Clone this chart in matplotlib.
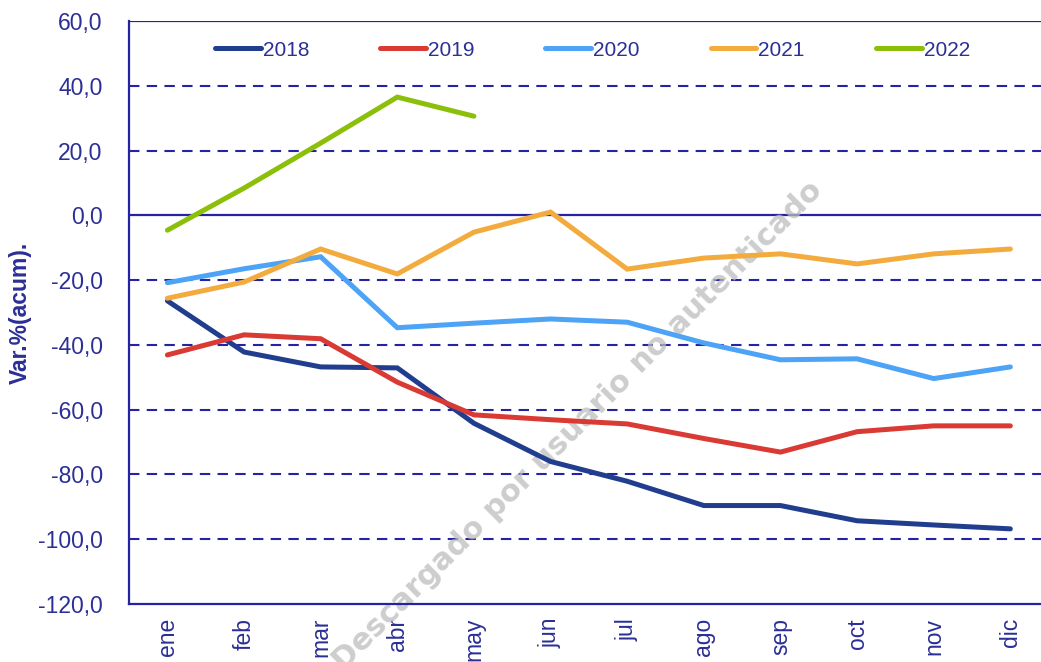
import matplotlib.pyplot as plt
from matplotlib.ticker import FuncFormatter

meses = ["ene", "feb", "mar", "abr", "may", "jun", "jul", "ago", "sep", "oct", "nov", "dic"]
v2018 = [-26.4, -42.2, -46.8, -47.1, -64.2, -76.0, -82.1, -89.6, -89.6, -94.3, -95.6, -96.8]
v2019 = [-43.1, -36.9, -38.1, -51.5, -61.6, -63.1, -64.4, -68.9, -73.1, -66.8, -65.0, -65.0]
v2020 = [-20.8, -16.5, -12.8, -34.7, -33.3, -32.0, -33.0, -39.4, -44.6, -44.3, -50.4, -46.8]
v2021 = [-25.6, -20.6, -10.4, -18.1, -5.2, 1.0, -16.6, -13.2, -11.9, -15.0, -11.9, -10.4]
v2022 = [-4.6, 8.4, 22.3, 36.5, 30.6]

navy = "#2b2f96"
grid_col = "#2323a3"
series = [
    ("2018", v2018, "#213d8e"),
    ("2019", v2019, "#d93a34"),
    ("2020", v2020, "#4da3f5"),
    ("2021", v2021, "#f2ab3c"),
    ("2022", v2022, "#8cbf0a"),
]

plt.rcParams["font.family"] = ["Liberation Sans", "DejaVu Sans"]

fig = plt.figure(figsize=(10.41, 6.62), dpi=100)
ax = fig.add_axes([0.124, 0.0876, 0.876, 0.8807])

x = list(range(len(meses)))
for nombre, vals, col in series:
    ax.plot(x[:len(vals)], vals, color=col, lw=3.6, label=nombre,
            solid_capstyle="round", solid_joinstyle="miter", zorder=3)

ax.set_ylim(-120, 60)
ax.set_xlim(-0.5, 11.4)
ax.set_yticks(range(-120, 61, 20))
ax.yaxis.set_major_formatter(FuncFormatter(lambda v, p: f"{v:.1f}".replace(".", ",")))
ax.set_xticks(x)
ax.set_xticklabels(meses, rotation=90)

# rejilla: discontinua salvo en 0 y en el tope
for yv in range(-100, 60, 20):
    if yv == 0:
        ax.axhline(0, color=grid_col, lw=1.6, zorder=1)
    else:
        ax.axhline(yv, color=grid_col, lw=1.5, ls=(0, (5, 3.5)), zorder=1)
ax.axhline(60, color=grid_col, lw=1.6, zorder=1)

for s in ["top", "right"]:
    ax.spines[s].set_visible(False)
for s in ["left", "bottom"]:
    ax.spines[s].set_color(grid_col)
    ax.spines[s].set_linewidth(1.6)

ax.tick_params(axis="both", colors=navy, labelcolor=navy, labelsize=16.5, length=0)
ax.tick_params(axis="y", pad=19)
ax.tick_params(axis="x", pad=10)

ax.set_ylabel("Var.%(acum).", color=navy, fontsize=16.5, fontweight="bold", labelpad=4)

ax.text(0.492, 0.305, "Descargado por usuario no autenticado", transform=ax.transAxes,
        rotation=45, ha="center", va="center", fontsize=22, fontweight="bold",
        color="#bdbdbd", alpha=0.75, zorder=2, family="DejaVu Sans")

leg = ax.legend(loc="center", bbox_to_anchor=(0.508, 0.95), ncol=5, frameon=False,
                fontsize=15, handlelength=2.2, handletextpad=0.1, columnspacing=3.4)
for t in leg.get_texts():
    t.set_color(navy)

fig.savefig("out.png", dpi=100)
plt.close(fig)
